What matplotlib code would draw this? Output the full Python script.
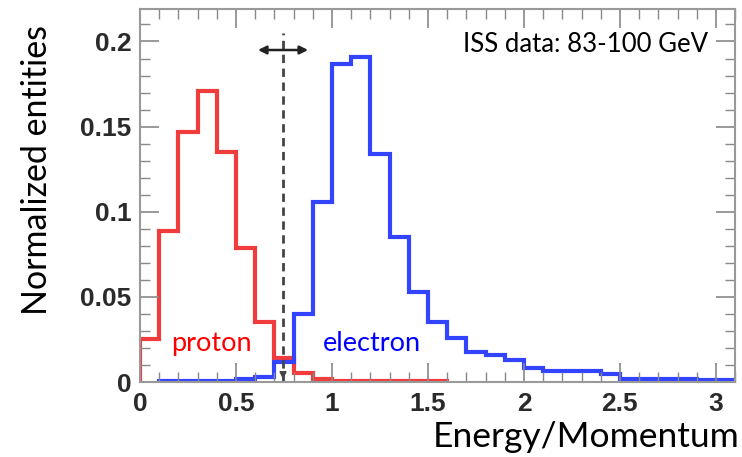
import matplotlib.pyplot as plt
import numpy as np

# bin edges (width 0.1)
proton_edges = np.round(np.arange(0, 1.61, 0.1), 2)
electron_edges = np.round(np.arange(0.1, 3.11, 0.1), 2)

proton = [0.025, 0.089, 0.147, 0.171, 0.135, 0.079, 0.035, 0.014,
          0.0055, 0.0015, 0.0006, 0.0005, 0.0005, 0.0005, 0.0005, 0.0005]
electron = [0.0008, 0.0008, 0.0008, 0.0008, 0.0015, 0.003, 0.0115, 0.040,
            0.106, 0.187, 0.191, 0.134, 0.085, 0.053, 0.035, 0.026,
            0.0176, 0.0157, 0.0127, 0.0082, 0.0066, 0.0065, 0.0064, 0.0045,
            0.002, 0.002, 0.002, 0.0019, 0.0014, 0.0014]

cut = 0.745

fig = plt.figure(figsize=(7.42, 4.57), dpi=100)
ax = fig.add_axes([0.1887, 0.164, 0.802, 0.816])

ax.stairs(proton, proton_edges, color="#f03c3c", lw=3)
ax.stairs(electron, electron_edges, color="#3344ff", lw=3)

ax.axvline(cut, ymax=0.205 / 0.219, color="#444444", lw=2, ls=(0, (3, 2)))
ax.annotate("", xy=(cut, 0.0), xytext=(cut, 0.006),
            arrowprops=dict(arrowstyle="-|>", color="#444444", lw=1.2))
ax.annotate("", xy=(0.6, 0.195), xytext=(0.89, 0.195),
            arrowprops=dict(arrowstyle="<|-|>", color="#222222", lw=1.8,
                            mutation_scale=12))

ax.text(0.37, 0.0225, "proton", color="#ff0000", fontsize=19.5,
        family="Lato", ha="center", va="center")
ax.text(1.21, 0.0225, "electron", color="#0000ff", fontsize=19.5,
        family="Lato", ha="center", va="center")
ax.text(2.96, 0.198, "ISS data: 83-100 GeV", color="black", fontsize=18.5,
        family="Lato", ha="right", va="center")

ax.set_xlim(0, 3.1)
ax.set_ylim(0, 0.219)
ax.set_xticks([0, 0.5, 1, 1.5, 2, 2.5, 3])
ax.set_xticklabels(["0", "0.5", "1", "1.5", "2", "2.5", "3"])
ax.set_yticks([0, 0.05, 0.1, 0.15, 0.2])
ax.set_yticklabels(["0", "0.05", "0.1", "0.15", "0.2"])
ax.set_xticks(np.arange(0, 3.11, 0.1), minor=True)
ax.set_yticks(np.arange(0, 0.219, 0.01), minor=True)

ax.tick_params(which="both", direction="in", top=True, right=True,
               color="#888888")
ax.tick_params(which="major", length=14, width=1.2)
ax.tick_params(which="minor", length=7, width=1)
ax.tick_params(labelsize=19, labelcolor="#2a2a2a")
ax.tick_params(axis="x", pad=7)
ax.tick_params(axis="y", pad=6)
for lab in ax.get_xticklabels() + ax.get_yticklabels():
    lab.set_fontweight("bold")
    lab.set_family("Liberation Sans")
for s in ax.spines.values():
    s.set_color("#999999")
    s.set_linewidth(1.5)

fig.text(0.05, 0.628, "Normalized entities", rotation=90, fontsize=24.5,
         family="Lato", ha="center", va="center")
fig.text(0.997, 0.044, "Energy/Momentum", fontsize=25.5, family="Lato",
         ha="right", va="center")

fig.savefig("out.png", dpi=100)
